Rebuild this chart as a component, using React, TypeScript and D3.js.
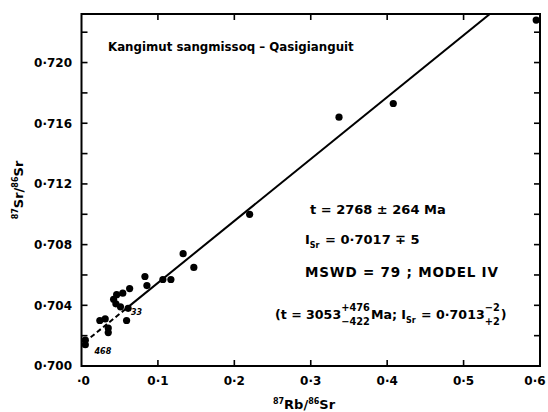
import React, { useEffect, useRef } from 'react';
import * as d3 from 'd3';

// whole-rock samples, 87Rb/86Sr and 87Sr/86Sr
const rbSr = [0.595, 0.408, 0.337, 0.22, 0.133, 0.147, 0.1065, 0.117, 0.083, 0.0856, 0.063, 0.054, 0.046, 0.042, 0.045, 0.051, 0.061, 0.059, 0.024, 0.031, 0.035, 0.035, 0.005, 0.005];
const srSr = [0.7228, 0.7173, 0.7164, 0.71, 0.7074, 0.7065, 0.7057, 0.7057, 0.7059, 0.7053, 0.7051, 0.7048, 0.7047, 0.7044, 0.7041, 0.7039, 0.7038, 0.703, 0.703, 0.7031, 0.7025, 0.7022, 0.7017, 0.7014];

// small sample numbers written next to points
const sampleLabels = ['468', '33'];
const sampleLabelX = [0.028, 0.072];
const sampleLabelY = [0.7010, 0.70355];

// isochron as drawn (intercept, slope), dashed close to the origin
const isoIntercept = 0.7014;
const isoSlope = 0.0408;
const isoDashX = [0.012, 0.06];
const isoSolidX = [0.06, 0.6];

const xTicks = [0, 0.1, 0.2, 0.3, 0.4, 0.5, 0.6];
const xTickLabels = ['·0', '0·1', '0·2', '0·3', '0·4', '0·5', '0·6'];
const yTicks = [0.7, 0.702, 0.704, 0.706, 0.708, 0.71, 0.712, 0.714, 0.716, 0.718, 0.72, 0.722];
const yLabelTicks = [0.7, 0.704, 0.708, 0.712, 0.716, 0.72];
const yTickLabels = ['0·700', '0·704', '0·708', '0·712', '0·716', '0·720'];

const FONT = '"DejaVu Sans", sans-serif';

const App = () => {
  const svgRef = useRef<SVGSVGElement>(null);

  useEffect(() => {
    const svg = d3.select(svgRef.current);
    svg.selectAll('*').remove();

    const width = 548;
    const height = 412;
    svg.attr('width', width).attr('height', height);

    const x = d3.scaleLinear().domain([0, 0.6]).range([81.5, 540]);
    const y = d3.scaleLinear().domain([0.7, 0.7232]).range([366, 14]);

    const [x0, x1] = x.range();
    const [y0, y1] = y.range();

    svg.append('defs').append('clipPath').attr('id', 'plotClip')
      .append('rect')
      .attr('x', x0).attr('y', y1)
      .attr('width', x1 - x0).attr('height', y0 - y1);

    // frame
    svg.append('rect')
      .attr('x', x0).attr('y', y1)
      .attr('width', x1 - x0).attr('height', y0 - y1)
      .attr('fill', 'none')
      .attr('stroke', '#000')
      .attr('stroke-width', 2);

    // inward ticks
    const tickLen = 6;
    const ticks = svg.append('g').attr('stroke', '#000').attr('stroke-width', 1.6);
    yTicks.slice(1).forEach(v => {
      ticks.append('line').attr('x1', x0).attr('x2', x0 + tickLen).attr('y1', y(v)).attr('y2', y(v));
      ticks.append('line').attr('x1', x1 - tickLen).attr('x2', x1).attr('y1', y(v)).attr('y2', y(v));
    });
    xTicks.slice(1, -1).forEach(v => {
      ticks.append('line').attr('x1', x(v)).attr('x2', x(v)).attr('y1', y0).attr('y2', y0 - tickLen);
      ticks.append('line').attr('x1', x(v)).attr('x2', x(v)).attr('y1', y1).attr('y2', y1 + tickLen);
    });

    // tick labels
    const labels = svg.append('g')
      .attr('font-family', FONT)
      .attr('font-weight', 'bold')
      .attr('fill', '#000');

    yLabelTicks.forEach((v, i) => {
      labels.append('text')
        .attr('x', 72)
        .attr('y', y(v))
        .attr('dy', '0.36em')
        .attr('text-anchor', 'end')
        .attr('font-size', 12)
        .text(yTickLabels[i]);
    });
    xTicks.forEach((v, i) => {
      const nudge = i === 0 ? 2 : i === xTicks.length - 1 ? -5 : 0;
      labels.append('text')
        .attr('x', x(v) + nudge)
        .attr('y', 385)
        .attr('text-anchor', 'middle')
        .attr('font-size', 12)
        .text(xTickLabels[i]);
    });

    // axis titles
    const xTitle = labels.append('text')
      .attr('x', 304)
      .attr('y', 409)
      .attr('text-anchor', 'middle')
      .attr('font-size', 13);
    xTitle.append('tspan').attr('font-size', 8).attr('dy', -5).text('87');
    xTitle.append('tspan').attr('dy', 5).text('Rb/');
    xTitle.append('tspan').attr('font-size', 8).attr('dy', -5).text('86');
    xTitle.append('tspan').attr('dy', 5).text('Sr');

    const yTitle = labels.append('text')
      .attr('transform', 'translate(23,190) rotate(-90)')
      .attr('text-anchor', 'middle')
      .attr('font-size', 13);
    yTitle.append('tspan').attr('font-size', 8).attr('dy', -5).text('87');
    yTitle.append('tspan').attr('dy', 5).text('Sr/');
    yTitle.append('tspan').attr('font-size', 8).attr('dy', -5).text('86');
    yTitle.append('tspan').attr('dy', 5).text('Sr');

    // isochron
    const line = d3.line<number>()
      .x(d => x(d))
      .y(d => y(isoIntercept + isoSlope * d));
    const iso = svg.append('g').attr('clip-path', 'url(#plotClip)');
    iso.append('path')
      .attr('d', line(isoDashX))
      .attr('fill', 'none')
      .attr('stroke', '#000')
      .attr('stroke-width', 2)
      .attr('stroke-dasharray', '5,3');
    iso.append('path')
      .attr('d', line(isoSolidX))
      .attr('fill', 'none')
      .attr('stroke', '#000')
      .attr('stroke-width', 2);

    // samples
    svg.append('g')
      .selectAll('circle')
      .data(rbSr)
      .enter()
      .append('circle')
      .attr('cx', d => x(d))
      .attr('cy', (d, i) => y(srSr[i]))
      .attr('r', 3.6)
      .attr('fill', '#000');

    sampleLabels.forEach((s, i) => {
      labels.append('text')
        .attr('x', x(sampleLabelX[i]))
        .attr('y', y(sampleLabelY[i]))
        .attr('dy', '0.35em')
        .attr('text-anchor', 'middle')
        .attr('font-size', 8)
        .attr('font-style', 'italic')
        .text(s);
    });

    // locality title
    labels.append('text')
      .attr('x', 108)
      .attr('y', 51)
      .attr('font-size', 11.8)
      .text('Kangimut sangmissoq – Qasigianguit');

    // age annotations, laid out piece by piece so stacked errors line up
    const rich = (px: number, py: number, parts: any[], size: number, spacing = 0) => {
      let cx = px;
      parts.forEach(p => {
        if (p.t !== undefined) {
          const t = labels.append('text')
            .attr('x', cx).attr('y', py)
            .attr('font-size', size)
            .attr('letter-spacing', spacing)
            .style('white-space', 'pre')
            .text(p.t);
          cx += (t.node() as SVGTextElement).getComputedTextLength() + spacing * p.t.length;
        } else {
          let w = 0;
          const sz = p.size || size * 0.78;
          if (p.sup !== undefined) {
            const t = labels.append('text')
              .attr('x', cx).attr('y', py - size * 0.62)
              .attr('font-size', sz)
              .style('white-space', 'pre')
              .text(p.sup);
            w = Math.max(w, (t.node() as SVGTextElement).getComputedTextLength());
          }
          if (p.sub !== undefined) {
            const t = labels.append('text')
              .attr('x', cx).attr('y', py + size * (p.sup !== undefined ? 0.5 : 0.3))
              .attr('font-size', sz)
              .style('white-space', 'pre')
              .text(p.sub);
            w = Math.max(w, (t.node() as SVGTextElement).getComputedTextLength());
          }
          cx += w + 1;
        }
      });
    };

    rich(310, 214, [{ t: 't = 2768 ± 264 Ma' }], 13);
    rich(305, 244, [{ t: 'I' }, { sub: 'Sr', size: 8 }, { t: ' = 0·7017 ∓ 5' }], 13);
    rich(305, 277, [{ t: 'MSWD = 79 ; MODEL IV' }], 13.5, 0.8);
    rich(275, 319, [
      { t: '(t = 3053' },
      { sup: '+476', sub: '−422' },
      { t: 'Ma; I' },
      { sub: 'Sr', size: 8 },
      { t: ' = 0·7013' },
      { sup: '−2', sub: '+2' },
      { t: ')' },
    ], 12.6);
  }, []);

  return (
    <svg
      ref={svgRef}
      style={{ position: 'absolute', left: 0, top: 0, background: '#fff' }}
    />
  );
};

export default App;
